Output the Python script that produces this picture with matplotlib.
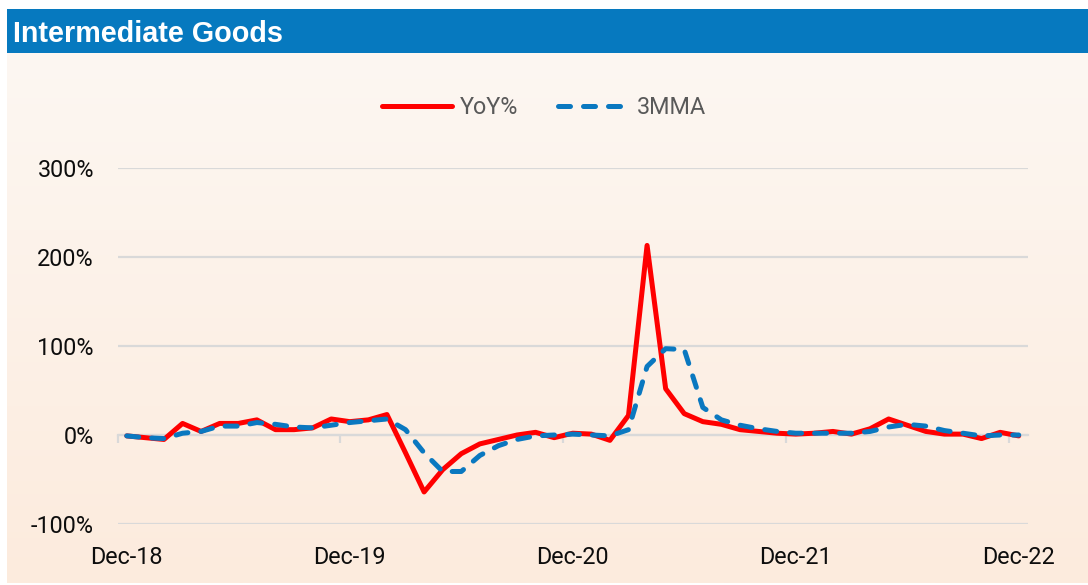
import numpy as np
import matplotlib
matplotlib.use("Agg")
import matplotlib.pyplot as plt
import matplotlib.transforms as mtransforms
from matplotlib.patches import Rectangle

# ---- data ----
title = "Intermediate Goods"
xlabels = ["Dec-18", "Dec-19", "Dec-20", "Dec-21", "Dec-22"]
yoy = [-1, -3, -5, 13, 4, 13, 13, 17, 6, 6, 8, 18, 15, 17, 23, -20, -64,
       -39, -21, -10, -5, 0, 3, -3, 2, 1, -6, 22, 213, 52, 24, 15, 12,
       6, 4, 2, 1, 2, 4, 1, 7, 18, 11, 4, 1, 1, -4, 3, -1]
mma3 = [-1, -3, -4, 2, 4, 10, 10, 14, 12, 9, 8, 11, 14, 16, 18, 6, -20,
        -41, -41, -23, -12, -5, -1, 0, 1, 0, -1, 6, 77, 97, 96, 31, 17,
        11, 7, 4, 2, 2, 2, 2, 4, 9, 12, 10, 5, 2, -1, 0, 0]
yticks = [-100, 0, 100, 200, 300]
label_step = 12

W, H = 1088, 585
fig = plt.figure(figsize=(W / 100, H / 100), dpi=100)
fig.patch.set_facecolor("white")

# background gradient panel
bg = fig.add_axes([7 / W, 2 / H, (W - 7) / W, (H - 53 - 2) / H])
bg.set_axis_off()
top = np.array([252, 247, 242]) / 255
bot = np.array([253, 235, 221]) / 255
t = np.linspace(0, 1, 256)[:, None]
grad = top[None, :] * (1 - t) + bot[None, :] * t
bg.imshow(grad[:, None, :], aspect="auto", extent=[0, 1, 0, 1], origin="upper")
bg.set_xlim(0, 1); bg.set_ylim(0, 1)

# title bar
fig.patches.append(Rectangle((7 / W, 1 - 53 / H), (W - 7) / W, 44 / H,
                             transform=fig.transFigure, facecolor="#0679BF",
                             edgecolor="none", zorder=1))
fig.text(13 / W, 1 - 34 / H, title, color="white", fontsize=20.7,
         fontweight="bold", family="Liberation Sans", va="center", ha="left")

# main axes
ax = fig.add_axes([117.5 / W, 1 - 524 / H, (1028 - 117.5) / W, (524 - 168) / H])
ax.patch.set_alpha(0)
n = len(yoy)
x = np.arange(n)
ax.set_xlim(-0.5, n - 0.5)
ax.set_ylim(-100, 300)

for yv in yticks:
    ax.axhline(yv, color="#D9D9D9", lw=1.6, zorder=1)

l1, = ax.plot(x, yoy, color="#FF0000", lw=3.6, solid_joinstyle="round",
              solid_capstyle="round", zorder=3, clip_on=False, label="YoY%")
l2, = ax.plot(x, mma3, color="#0A78C0", lw=3.6, dashes=(2.4, 2.6),
              dash_capstyle="round", zorder=4, clip_on=False, label="3MMA")

for s in ax.spines.values():
    s.set_visible(False)
ax.spines["bottom"].set_visible(True)
ax.spines["bottom"].set_position(("data", 0))
ax.spines["bottom"].set_color("#D9D9D9")
ax.spines["bottom"].set_linewidth(1.6)
ax.set_xticks(np.arange(-0.5, n - 1, label_step))
ax.tick_params(axis="x", length=6, width=1.6, color="#D9D9D9", labelbottom=False)
ax.set_yticks(yticks)
ax.set_yticklabels([f"{v}%" for v in yticks])
ax.tick_params(axis="y", length=0, pad=17, labelsize=16.8, labelcolor="#0D0D0D")
for lab in ax.get_yticklabels():
    lab.set_family("Roboto")

trans = mtransforms.blended_transform_factory(ax.transData, fig.transFigure)
for i, lab in enumerate(xlabels):
    ax.text(i * label_step, 1 - 558 / H, lab, transform=trans, ha="center",
            va="center", fontsize=16.8, family="Roboto", color="#0D0D0D")

leg = ax.legend(handles=[l1, l2], loc="center", ncol=2, frameon=False,
                bbox_to_anchor=(544 / W, 1 - 108 / H), bbox_transform=fig.transFigure,
                handlelength=3.0, handletextpad=0.35, columnspacing=1.7,
                prop={"family": "Roboto", "size": 16.8})
for txt in leg.get_texts():
    txt.set_color("#595959")

fig.savefig("out.png", dpi=100, facecolor=fig.get_facecolor())
